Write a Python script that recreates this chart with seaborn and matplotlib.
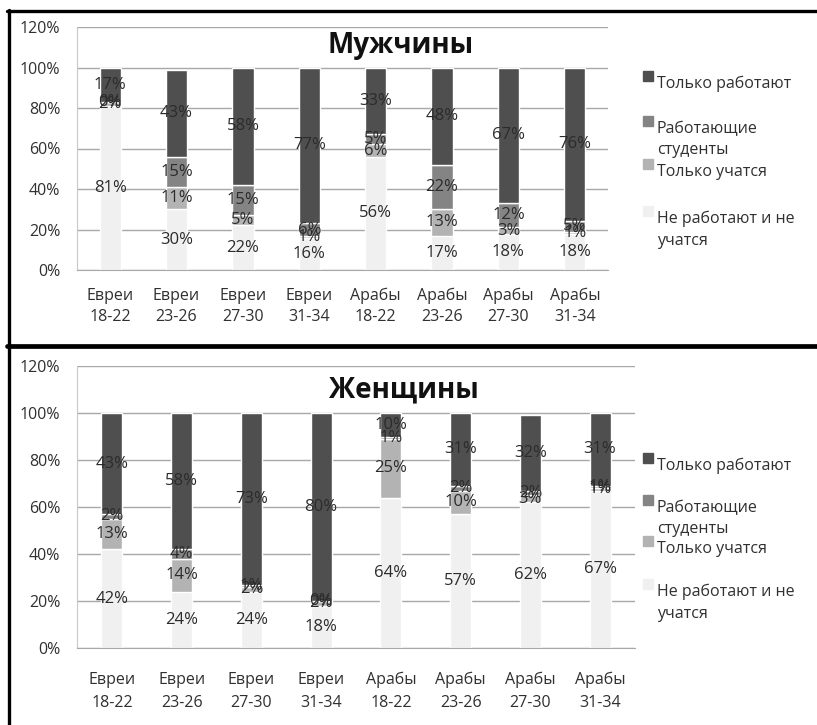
import pandas as pd
import numpy as np
import matplotlib.pyplot as plt
import seaborn as sns
from matplotlib.lines import Line2D
from matplotlib.patches import Rectangle

# -----------------------------
# DATA (percent of age group)
# -----------------------------
groups = ["Евреи\n18-22", "Евреи\n23-26", "Евреи\n27-30", "Евреи\n31-34",
          "Арабы\n18-22", "Арабы\n23-26", "Арабы\n27-30", "Арабы\n31-34"]

series_names = ["Не работают и не\nучатся", "Только учатся",
                "Работающие\nстуденты", "Только работают"]
colors = ["#f0f0f0", "#b3b3b3", "#848484", "#4f4f4f"]

men_none = [81, 30, 22, 16, 56, 17, 18, 18]
men_study = [2, 11, 5, 1, 6, 13, 3, 1]
men_workstudy = [0, 15, 15, 6, 5, 22, 12, 5]
men_work = [17, 43, 58, 77, 33, 48, 67, 76]

women_none = [42, 24, 24, 18, 64, 57, 62, 67]
women_study = [13, 14, 2, 2, 25, 10, 3, 1]
women_workstudy = [2, 4, 1, 0, 1, 2, 2, 1]
women_work = [43, 58, 73, 80, 10, 31, 32, 31]

yticks = [0, 20, 40, 60, 80, 100, 120]

sns.set_style("white")
plt.rcParams['font.family'] = ['Open Sans', 'DejaVu Sans']

W, H = 817, 725
fig = plt.figure(figsize=(W / 100, H / 100), dpi=100)


def px(x0, y_top, x1, y_bot):
    # pixel box -> figure fraction rect
    return [x0 / W, 1 - y_bot / H, (x1 - x0) / W, (y_bot - y_top) / H]


def stacked(ax, layers, bar_w, xpad, lsp):
    df = pd.DataFrame({"group": groups})
    bottom = np.zeros(len(groups))
    for name, vals, col in zip(series_names, layers, colors):
        df[name] = vals
        sns.barplot(data=df, x="group", y=name, order=groups, color=col,
                    width=bar_w, bottom=bottom, errorbar=None, ax=ax,
                    saturation=1, zorder=2)
        ax.bar_label(ax.containers[-1], labels=[f"{v}%" for v in vals],
                     label_type="center", fontsize=12, color="#2b2b2b")
        bottom = bottom + np.array(vals)
    ax.set_xlim(-0.5, len(groups) - 0.5)
    ax.set_ylim(0, 120)
    ax.set_yticks(yticks)
    ax.set_yticklabels([f"{t}%" for t in yticks], fontsize=11.5, color="#303030")
    ax.tick_params(axis="y", length=0, pad=12)
    ax.tick_params(axis="x", length=0, pad=xpad, labelsize=11.5, labelcolor="#303030")
    ax.set_xlabel("")
    ax.set_ylabel("")
    ax.yaxis.grid(True, color="#a8a8a8", linewidth=1.0, zorder=0)
    ax.set_axisbelow(True)
    for s in ["top", "right"]:
        ax.spines[s].set_visible(False)
    ax.spines["left"].set_color("#c8c8c8")
    ax.spines["bottom"].set_color("#a8a8a8")
    for t in ax.get_xticklabels():
        t.set_linespacing(lsp)


def legend(y_rows):
    # manual legend, top layer listed first as in the reference
    for name, col, y in zip(series_names[::-1], colors[::-1], y_rows):
        fig.add_artist(Rectangle((643 / W, 1 - (y + 5) / H), 10 / W, 10 / H,
                                 transform=fig.transFigure, color=col))
        fig.text(657 / W, 1 - y / H, name, fontsize=11.5, color="#303030",
                 va="top", ha="left", linespacing=1.45)


# -----------------------------
# MEN
# -----------------------------
ax1 = fig.add_axes(px(77, 27, 608, 270))
stacked(ax1, [men_none, men_study, men_workstudy, men_work], 0.32, 13, 1.4)
fig.text(401 / W, 1 - 46 / H, "Мужчины", fontsize=20, fontweight="bold",
         ha="center", va="center", color="#111111")

# -----------------------------
# WOMEN
# -----------------------------
ax2 = fig.add_axes(px(77, 366, 635, 648))
stacked(ax2, [women_none, women_study, women_workstudy, women_work], 0.3, 17, 1.6)
fig.text(404 / W, 1 - 390 / H, "Женщины", fontsize=20, fontweight="bold",
         ha="center", va="center", color="#111111")

legend([76, 121, 164, 211])
legend([458, 500, 541, 584])

# frame lines
fig.add_artist(Line2D([8.5 / W, 8.5 / W], [0, 1 - 10 / H], color="black", lw=2.4))
fig.add_artist(Line2D([7 / W, 1], [1 - 10.5 / H, 1 - 10.5 / H], color="black", lw=2.4))
fig.add_artist(Line2D([7 / W, 1], [1 - 345.5 / H, 1 - 345.5 / H], color="black", lw=3.4))

plt.savefig("out.png", dpi=100, facecolor="white")
